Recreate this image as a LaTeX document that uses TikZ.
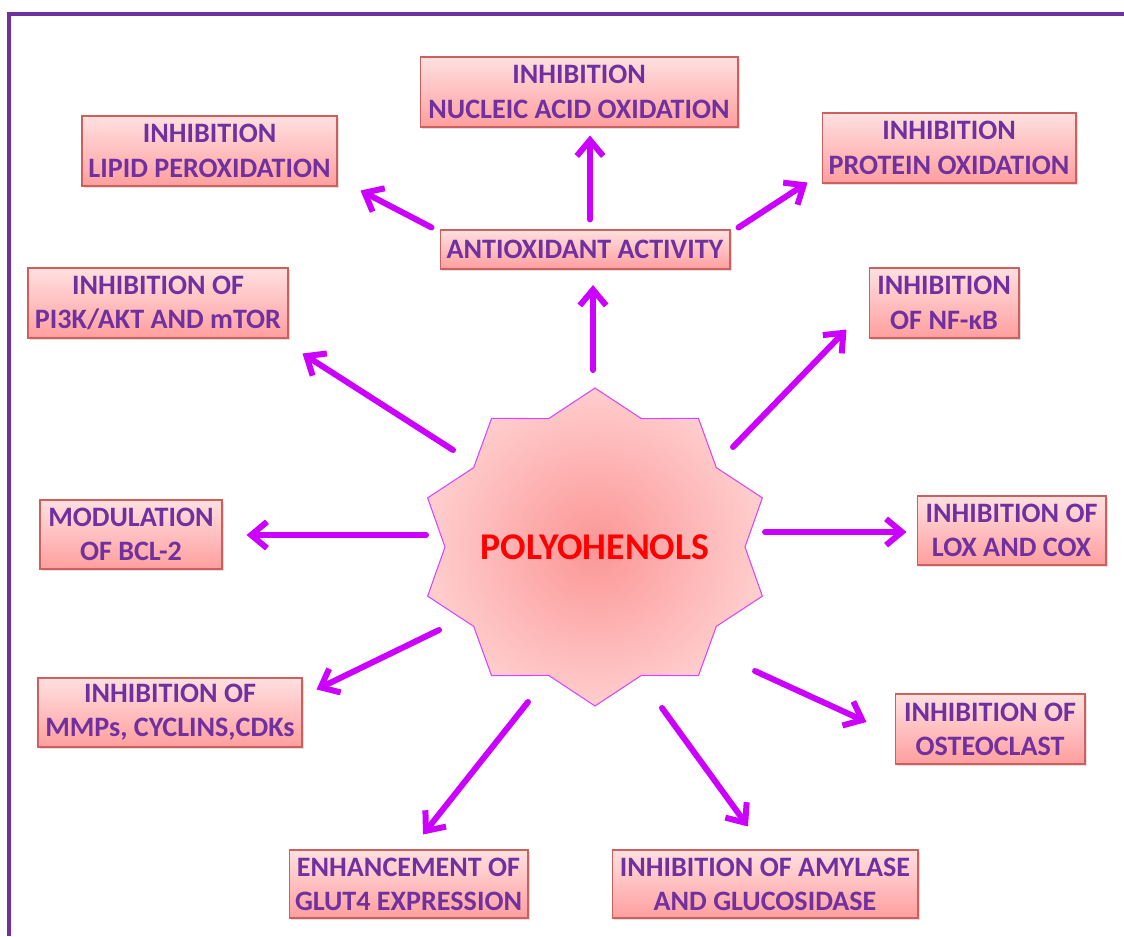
\documentclass[tikz,border=0pt]{standalone}
\usepackage{fontspec}
\setmainfont{Carlito}
\usepackage{tikz}
\usetikzlibrary{calc}
\usetikzlibrary{arrows.meta}
\usetikzlibrary{shadows}
\definecolor{txtpurple}{RGB}{112,48,160}
\definecolor{arrmag}{RGB}{204,0,255}
\definecolor{boxedge}{RGB}{205,95,95}
\definecolor{boxtop}{RGB}{255,224,224}
\definecolor{boxbot}{RGB}{255,158,158}
\definecolor{staredge}{RGB}{214,70,250}
\tikzset{
	effect/.style={draw=boxedge, line width=0.6pt, top color=boxtop, bottom color=boxbot,
		drop shadow={shadow xshift=1.2pt, shadow yshift=-1.2pt, opacity=0.25},
		align=center, inner sep=0pt, text=txtpurple,
		font=\bfseries\fontsize{16}{19.5}\selectfont},
	arr/.style={arrmag, line width=3.4pt, line cap=round,
		-{Straight Barb[length=9pt, width=15pt]}},
	frame/.style={txtpurple, line width=2.4pt},
}

\begin{document}
\begin{tikzpicture}[x=0.02cm, y=-0.02cm]
		\useasboundingbox (0,0) rectangle (1124,936);
		\draw[frame] (9,936) -- (9,14) -- (1124,14);
		% central star
		\shadedraw[draw=staredge, line width=0.6pt, inner color={rgb,255:red,252;green,150;blue,150}, outer color={rgb,255:red,255;green,205;blue,205}]
			plot[samples at={0,...,19}] ({595+(176-26*mod(\x,2))*cos(90+18*\x)}, {547-(159-24*mod(\x,2))*sin(90+18*\x)}) -- cycle;
		\node[text=red, font=\bfseries\fontsize{21.5}{25}\selectfont] (poly) at (595,547) {POLYOHENOLS};
		% boxes
		\node[effect, minimum width=5.1cm, minimum height=1.4cm] (lipid) at (209.5,151) {INHIBITION\\LIPID PEROXIDATION};
		\node[effect, minimum width=6.36cm, minimum height=1.4cm] (nucleic) at (579,92) {INHIBITION\\NUCLEIC ACID OXIDATION};
		\node[effect, minimum width=5.08cm, minimum height=1.4cm] (protein) at (949,148) {INHIBITION\\PROTEIN OXIDATION};
		\node[effect, minimum width=5.8cm, minimum height=0.78cm] (antiox) at (585,249.5) {ANTIOXIDANT ACTIVITY};
		\node[effect, minimum width=5.2cm, minimum height=1.4cm] (pi3k) at (158,303) {INHIBITION OF\\PI3K/AKT AND mTOR};
		\node[effect, minimum width=3.0cm, minimum height=1.4cm] (nfkb) at (944,303) {INHIBITION\\OF NF-κB};
		\node[effect, minimum width=3.64cm, minimum height=1.38cm] (bcl) at (131,534.5) {MODULATION\\OF BCL-2};
		\node[effect, minimum width=3.78cm, minimum height=1.38cm] (lox) at (1011.5,530.5) {INHIBITION OF\\LOX AND COX};
		\node[effect, minimum width=5.28cm, minimum height=1.38cm] (mmp) at (170,712.5) {INHIBITION OF\\MMPs, CYCLINS,CDKs};
		\node[effect, minimum width=3.8cm, minimum height=1.4cm] (osteo) at (990,729) {INHIBITION OF\\OSTEOCLAST};
		\node[effect, minimum width=4.78cm, minimum height=1.36cm] (glut) at (408.5,884) {ENHANCEMENT OF\\GLUT4 EXPRESSION};
		\node[effect, minimum width=6.12cm, minimum height=1.36cm] (amyl) at (765,884) {INHIBITION OF AMYLASE\\AND GLUCOSIDASE};
		% arrows
		\draw[arr] ($(poly)+(-2,-177)$) -- ($(antiox.south)+(8,15.5)$);
		\draw[arr] ($(antiox.north)+(5,-10)$) -- ($(nucleic.south)+(11,8)$);
		\draw[arr] ($(antiox.north west)+(-8,-2)$) -- ($(lipid.south east)+(23,4)$);
		\draw[arr] ($(antiox.north east)+(8,-2)$) -- ($(protein.south west)+(-14,-1)$);
		\draw[arr] ($(poly)+(-142,-97)$) -- ($(pi3k.south east)+(14,15)$);
		\draw[arr] ($(poly)+(138,-100)$) -- ($(nfkb.south west)+(-22,-9)$);
		\draw[arr] ($(poly)+(-169,-12)$) -- ($(bcl.east)+(24,0.5)$);
		\draw[arr] ($(poly)+(170,-15)$) -- ($(lox.west)+(-10,1.5)$);
		\draw[arr] ($(poly)+(-156,83)$) -- ($(mmp.north east)+(14,12)$);
		\draw[arr] ($(poly)+(160,124)$) -- ($(osteo.west)+(-28,-7)$);
		\draw[arr] ($(poly)+(-67,155)$) -- ($(glut.north)+(14.5,-15)$);
		\draw[arr] ($(poly)+(67,161)$) -- ($(amyl.north)+(-17,-23)$);
	\end{tikzpicture}
\end{document}
